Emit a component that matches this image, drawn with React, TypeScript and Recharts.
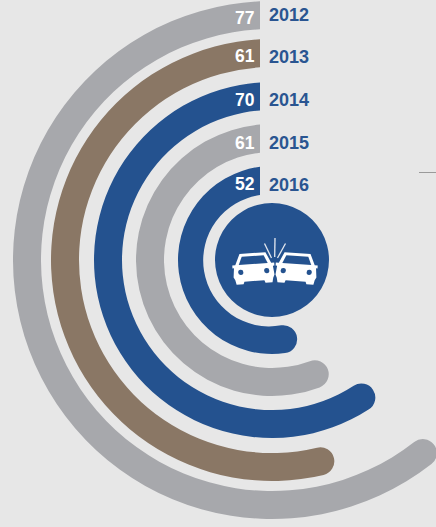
import { PieChart, Pie } from 'recharts'

// outer ring first
const years = ['2012', '2013', '2014', '2015', '2016']
const values = [77, 61, 70, 61, 52]
// how far each arc runs round from twelve o'clock, degrees
const sweeps = [218, 193.5, 213, 200.5, 188]

const colors = ['#a7a8ac', '#8a7765', '#24528f', '#a7a8ac', '#24528f']
const outerRadii = [259, 221, 178, 136, 94]
const valueBaselines = [24, 62, 106, 149, 190]
const yearBaselines = [21, 63, 106, 149, 191]

const RING_WIDTH = 28
const CX = 272
const CY = 260
const CUT_X = 260

const polar = (r: number, deg: number) => {
  const a = (deg * Math.PI) / 180
  return [CX + r * Math.cos(a), CY - r * Math.sin(a)]
}

// arc with a straight cut at the top and a round cap at the far end
const RingShape = (props: any) => {
  const { innerRadius: ri, outerRadius: ro, endAngle, fill, index } = props
  if (index !== 0) return <g />
  const dx = CX - CUT_X
  const topOuter = CY - Math.sqrt(ro * ro - dx * dx)
  const topInner = CY - Math.sqrt(ri * ri - dx * dx)
  const [ox, oy] = polar(ro, endAngle)
  const [ix, iy] = polar(ri, endAngle)
  const cap = (ro - ri) / 2
  const d = [
    `M${CUT_X},${topOuter}`,
    `A${ro},${ro} 0 1 0 ${ox},${oy}`,
    `A${cap},${cap} 0 0 0 ${ix},${iy}`,
    `A${ri},${ri} 0 1 1 ${CUT_X},${topInner}`,
    'Z',
  ].join(' ')
  return <path d={d} fill={fill} />
}

const Car = ({ x, y, angle }: { x: number; y: number; angle: number }) => (
  <g transform={`translate(${x} ${y}) rotate(${angle})`}>
    <path
      d="M-13,-15 L13,-15 L18,-4 L21,-4 L21,-1 L19.5,-1 L20.5,8 L19,11 L18,15.5 L11,15.5 L10,13 L-10,13 L-11,15.5 L-18,15.5 L-19,11 L-20.5,8 L-19.5,-1 L-21,-1 L-21,-4 L-18,-4 Z"
      fill="#fff"
    />
    <path d="M-11,-12 L11,-12 L14.5,-4 L-14.5,-4 Z" fill="#24528f" />
    <circle cx={-13} cy={3.5} r={2.6} fill="#24528f" />
    <circle cx={13} cy={3.5} r={2.6} fill="#24528f" />
  </g>
)

export default function App() {
  return (
    <div style={{ position: 'absolute', left: 0, top: 0, width: 436, height: 527, background: '#e7e7e7', overflow: 'hidden' }}>
      <PieChart width={436} height={527} margin={{ top: 0, right: 0, bottom: 0, left: 0 }}>
        {sweeps.map((sweep, i) => (
          <Pie
            key={years[i]}
            data={[
              { name: years[i], value: sweep },
              { name: 'rest', value: 360 - sweep },
            ]}
            dataKey="value"
            cx={CX}
            cy={CY}
            startAngle={90}
            endAngle={450}
            innerRadius={outerRadii[i] - RING_WIDTH}
            outerRadius={outerRadii[i]}
            fill={colors[i]}
            stroke="none"
            shape={RingShape}
            isAnimationActive={false}
          />
        ))}
        <Pie
          data={[{ name: 'hub', value: 1 }]}
          dataKey="value"
          cx={CX}
          cy={CY}
          innerRadius={0}
          outerRadius={57}
          fill="#24528f"
          stroke="none"
          isAnimationActive={false}
        />
      </PieChart>
      {/* pies always paint above other chart children, so labels and icon sit in their own layer */}
      <svg width={436} height={527} style={{ position: 'absolute', left: 0, top: 0 }}>
        <g fontFamily="Liberation Sans" fontWeight={700}>
          {values.map((v, i) => (
            <text key={v + '-' + i} x={254.5} y={valueBaselines[i]} textAnchor="end" fontSize={17.5} fill="#ffffff">
              {v}
            </text>
          ))}
          {years.map((y, i) => (
            <text key={y} x={269} y={yearBaselines[i]} fontSize={18} fill="#2a5591">
              {y}
            </text>
          ))}
        </g>
        <Car x={253.5} y={268} angle={-4} />
        <Car x={296.5} y={268} angle={4} />
        <g stroke="#e4e8ef" strokeWidth={1.3}>
          <line x1={264.5} y1={243.5} x2={271.5} y2={258} />
          <line x1={275} y1={238} x2={274.7} y2={257} />
          <line x1={285.5} y1={243.5} x2={277.5} y2={258} />
        </g>
        <line x1={419} y1={172.5} x2={436} y2={172.5} stroke="#9a9a9a" strokeWidth={1} />
      </svg>
    </div>
  )
}
